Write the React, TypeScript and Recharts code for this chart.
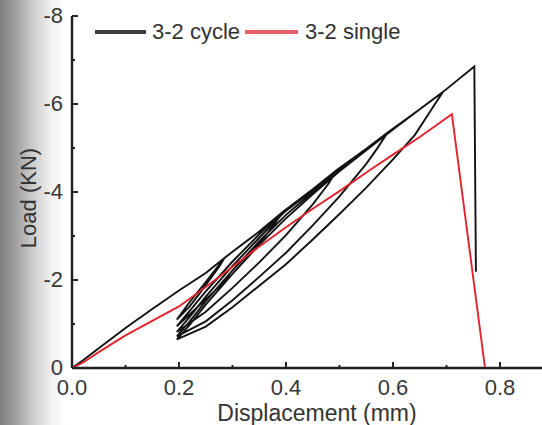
import { LineChart, Line, XAxis, YAxis, Legend } from 'recharts';

const FONT = '"Liberation Sans", Arial, sans-serif';

// displacement (mm), load (kN), load plotted as negative
const firstLoad: [number, number][] = [
  [0, 0], [0.02, -0.17], [0.05, -0.45], [0.1, -0.91], [0.15, -1.34], [0.2, -1.76], [0.25, -2.16], [0.285, -2.5],
];
const unload1: [number, number][] = [[0.275, -2.3], [0.26, -2.05], [0.24, -1.72], [0.22, -1.4], [0.196, -1.1]];
const reload1: [number, number][] = [
  [0.22, -1.5], [0.25, -1.95], [0.285, -2.5], [0.3, -2.64], [0.35, -3.1], [0.395, -3.56],
];
const unload2: [number, number][] = [[0.38, -3.3], [0.35, -2.82], [0.3, -2.14], [0.25, -1.56], [0.196, -0.95]];
const reload2: [number, number][] = [
  [0.22, -1.3], [0.25, -1.74], [0.3, -2.42], [0.35, -3.04], [0.395, -3.56], [0.45, -4.06], [0.495, -4.5],
];
const unload3: [number, number][] = [
  [0.48, -4.2], [0.45, -3.72], [0.4, -3.02], [0.35, -2.4], [0.3, -1.82], [0.25, -1.28], [0.196, -0.82],
];
const reload3: [number, number][] = [
  [0.22, -1.16], [0.25, -1.62], [0.3, -2.32], [0.35, -2.96], [0.395, -3.52], [0.45, -4.04], [0.495, -4.5], [0.55, -4.98], [0.59, -5.35],
];
const unload4: [number, number][] = [
  [0.57, -4.98], [0.55, -4.64], [0.5, -3.9], [0.45, -3.24], [0.4, -2.62], [0.35, -2.07], [0.3, -1.54], [0.25, -1.06], [0.196, -0.72],
];
const reload4: [number, number][] = [
  [0.22, -1.06], [0.25, -1.52], [0.3, -2.22], [0.35, -2.88], [0.4, -3.48], [0.45, -4.0], [0.495, -4.46], [0.55, -4.96], [0.59, -5.35], [0.65, -5.88], [0.693, -6.27],
];
const unload5: [number, number][] = [
  [0.67, -5.84], [0.641, -5.3], [0.6, -4.74], [0.55, -4.1], [0.5, -3.5], [0.45, -2.92], [0.4, -2.36], [0.35, -1.87], [0.3, -1.38], [0.25, -0.94], [0.196, -0.65],
];
const finalLoad: [number, number][] = [
  [0.22, -0.98], [0.25, -1.44], [0.3, -2.14], [0.35, -2.8], [0.4, -3.4], [0.45, -3.95], [0.5, -4.47], [0.55, -4.95],
  [0.6, -5.42], [0.65, -5.88], [0.693, -6.27], [0.752, -6.85], [0.755, -2.19],
];

const singleCurve: [number, number][] = [
  [0, 0], [0.02, -0.12], [0.05, -0.36], [0.1, -0.74], [0.15, -1.07], [0.2, -1.4], [0.25, -1.84], [0.3, -2.3], [0.35, -2.76],
  [0.4, -3.2], [0.45, -3.62], [0.5, -4.02], [0.557, -4.5], [0.6, -4.85], [0.65, -5.25], [0.71, -5.77], [0.772, 0],
];

const xTicks = [0, 0.1, 0.2, 0.3, 0.4, 0.5, 0.6, 0.7, 0.8];
const yTicks = [0, -1, -2, -3, -4, -5, -6, -7, -8];

const cycleData = [
  firstLoad, unload1, reload1, unload2, reload2, unload3, reload3, unload4, reload4, unload5, finalLoad,
].flat().map(([x, y]) => ({ x, y }));
const singleData = singleCurve.map(([x, y]) => ({ x, y }));

const XTick = (props: any) => {
  const { x, y, payload } = props;
  const major = Math.round(payload.value * 10) % 2 === 0;
  return (
    <g>
      <line x1={x} x2={x} y1={y} y2={y - (major ? 6 : 3)} stroke="#222" strokeWidth={2} />
      {major && (
        <text x={x} y={y + 27} textAnchor="middle" fontSize={22} fill="#383838">
          {payload.value.toFixed(1)}
        </text>
      )}
    </g>
  );
};

const YTick = (props: any) => {
  const { x, y, payload } = props;
  const major = Math.round(payload.value) % 2 === 0;
  return (
    <g>
      <line x1={x} x2={x + (major ? 6 : 3)} y1={y} y2={y} stroke="#222" strokeWidth={2} />
      {major && (
        <text x={x - 9} y={y + 7} textAnchor="end" fontSize={22} fill="#383838">
          {payload.value}
        </text>
      )}
    </g>
  );
};

const renderLegend = () => (
  <div
    style={{
      display: 'flex',
      alignItems: 'center',
      fontSize: 22,
      color: '#333',
      fontFamily: FONT,
      lineHeight: '24px',
      whiteSpace: 'nowrap',
    }}
  >
    <span style={{ display: 'inline-block', width: 51, height: 4, background: '#3c3c3c', marginRight: 6 }} />
    <span>3-2 cycle</span>
    <span style={{ display: 'inline-block', width: 53, height: 4, background: '#e5606b', marginLeft: 5, marginRight: 7 }} />
    <span>3-2 single</span>
  </div>
);

export default function App() {
  return (
    <div
      style={{
        position: 'absolute',
        left: 0,
        top: 0,
        width: 542,
        height: 425,
        overflow: 'hidden',
        fontFamily: FONT,
        background: 'linear-gradient(to right, #7e7e7e 0px, #9c9c9c 14px, #cfcfcf 34px, #f2f2f2 52px, #ffffff 66px)',
      }}
    >
      <LineChart width={542} height={425} margin={{ top: 16, right: 0, bottom: 0, left: 0 }} style={{ fontFamily: FONT }}>
        <XAxis
          type="number"
          dataKey="x"
          domain={[0, 0.8785]}
          allowDataOverflow
          ticks={xTicks}
          interval={0}
          tick={<XTick />}
          tickLine={false}
          tickSize={0}
          tickMargin={0}
          height={57}
          axisLine={{ stroke: '#222', strokeWidth: 2.5 }}
          label={{ value: 'Displacement (mm)', position: 'insideBottom', offset: 4, dx: 10, fontSize: 23, fill: '#333' }}
        />
        <YAxis
          type="number"
          dataKey="y"
          domain={[-8, 0]}
          reversed
          allowDataOverflow
          ticks={yTicks}
          interval={0}
          tick={<YTick />}
          tickLine={false}
          tickSize={0}
          tickMargin={0}
          width={72}
          axisLine={{ stroke: '#222', strokeWidth: 2.5 }}
          label={{ value: 'Load (KN)', angle: -90, position: 'center', dx: -8, dy: 6, fontSize: 22, fill: '#333' }}
        />
        <Legend
          layout="horizontal"
          verticalAlign="middle"
          align="center"
          content={renderLegend}
          wrapperStyle={{ top: 20, left: 95, width: 'auto' }}
        />
        <Line
          data={cycleData}
          dataKey="y"
          name="3-2 cycle"
          type="linear"
          stroke="#121212"
          strokeWidth={1.9}
          dot={false}
          isAnimationActive={false}
        />
        <Line
          data={singleData}
          dataKey="y"
          name="3-2 single"
          type="linear"
          stroke="#e0232c"
          strokeWidth={1.9}
          dot={false}
          isAnimationActive={false}
        />
      </LineChart>
    </div>
  );
}
